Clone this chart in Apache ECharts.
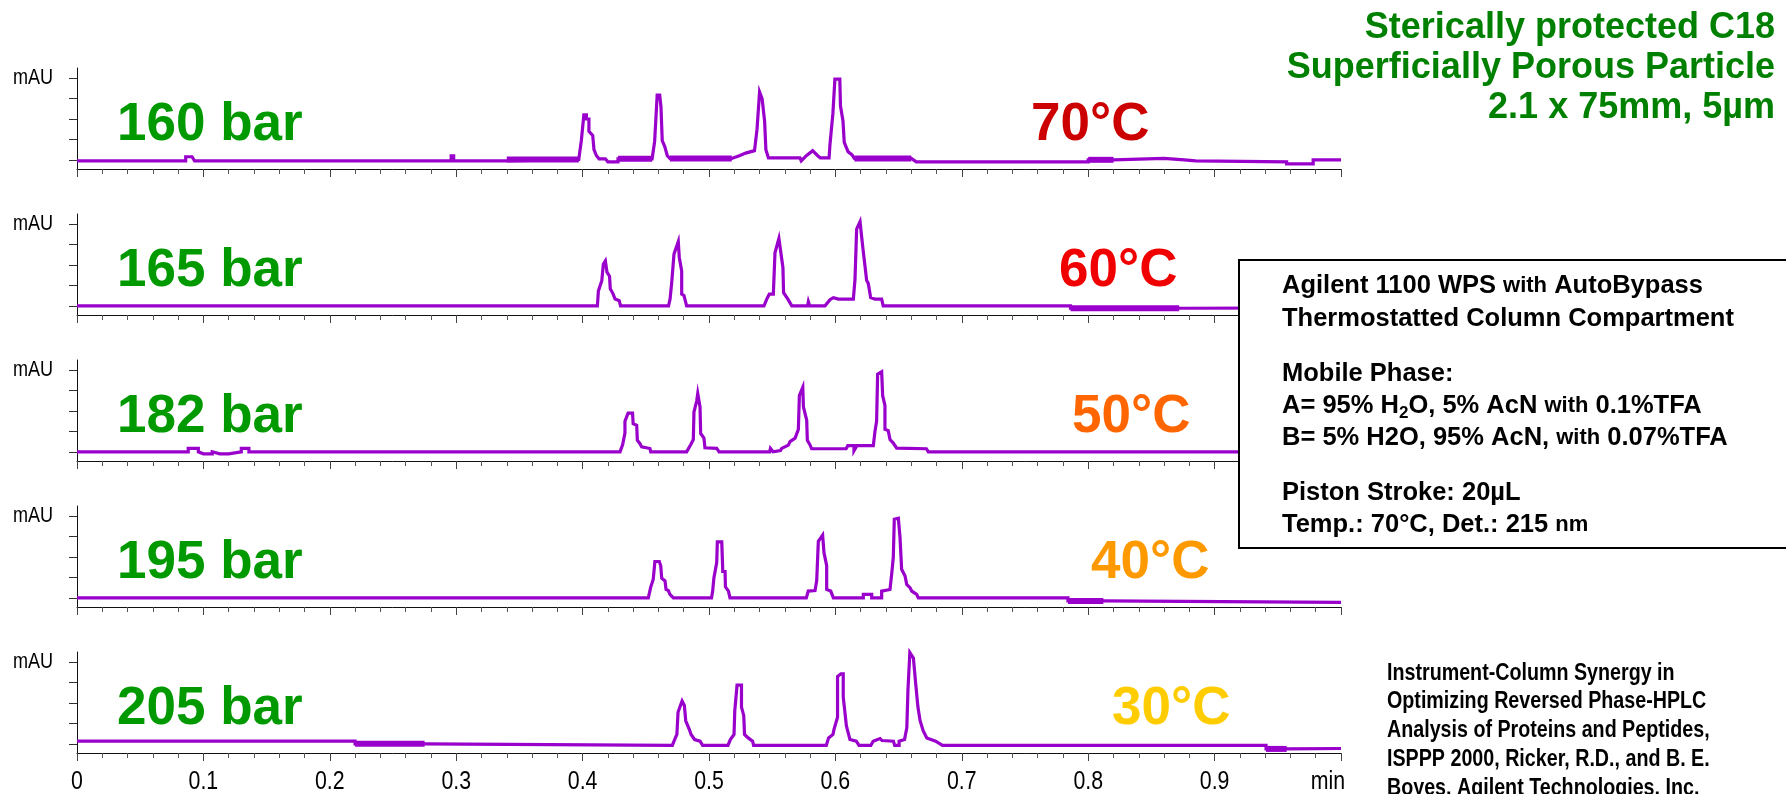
<!DOCTYPE html>
<html>
<head>
<meta charset="utf-8">
<script src="https://cdn.jsdelivr.net/npm/echarts@6/dist/echarts.min.js"></script>
<style>
  html, body { margin: 0; padding: 0; background: #fff; }
  #chart { width: 1786px; height: 794px; }
</style>
</head>
<body>
<div id="chart"></div>
<script>
// Run conditions: pressure labels and column temperatures, top to bottom
const pressures = ['160 bar', '165 bar', '182 bar', '195 bar', '205 bar'];
const temperatures = ['70°C', '60°C', '50°C', '40°C', '30°C'];

// Retention time axis (min) and detector axis ticks
const timeTicks = [0, 0.1, 0.2, 0.3, 0.4, 0.5, 0.6, 0.7, 0.8, 0.9, 1.0];
const timeTickLabels = ['0', '0.1', '0.2', '0.3', '0.4', '0.5', '0.6', '0.7', '0.8', '0.9', 'min'];
const absorbanceTicks = [0, 1, 2, 3, 4];
const absorbanceUnit = 'mAU';

// Chromatogram traces: [time (min), detector signal]
const trace160 = [
  [0, -0.05], [0.086, -0.05], [0.086, 0.15], [0.091, 0.15], [0.093, -0.05],
  [0.296, -0.05], [0.296, 0.2], [0.298, 0.2], [0.298, -0.05], [0.340, -0.05],
  [0.340, 0.02], [0.397, 0.02],
  [0.398, 0.5], [0.399, 0.94], [0.401, 2.2], [0.403, 2.2], [0.403, 2.0], [0.405, 2.0],
  [0.405, 1.4], [0.408, 1.2], [0.409, 0.5], [0.411, 0.2], [0.413, 0.05], [0.418, 0.05],
  [0.420, -0.1], [0.428, -0.1], [0.428, 0.05], [0.455, 0.05],
  [0.457, 0.9], [0.459, 3.17], [0.461, 3.17], [0.462, 2.6], [0.463, 0.94], [0.465, 0.65],
  [0.467, 0.2], [0.469, 0.07], [0.518, 0.07],
  [0.524, 0.2], [0.529, 0.33], [0.536, 0.45], [0.538, 1.5], [0.540, 3.33], [0.542, 3.0], [0.544, 1.9],
  [0.545, 0.5], [0.547, 0.1], [0.572, 0.1], [0.573, -0.05], [0.577, 0.2], [0.582, 0.45],
  [0.586, 0.2], [0.588, 0.1], [0.595, 0.1],
  [0.5957, 0.75], [0.598, 2.25], [0.5996, 3.95], [0.6035, 3.95], [0.604, 2.65], [0.606, 1.9],
  [0.607, 0.85], [0.610, 0.4], [0.613, 0.25], [0.615, 0.07], [0.660, 0.07], [0.664, -0.1],
  [0.800, -0.1], [0.800, 0.0], [0.820, 0.0], [0.820, 0.07], [0.860, 0.07], [0.860, 0.0],
  [0.876, 0.0], [0.876, -0.05], [0.885, -0.05], [0.885, -0.1], [0.957, -0.1], [0.957, -0.2],
  [0.978, -0.2], [0.978, 0.0], [1.0, 0.0]
];
const trace165 = [
  [0, 0.0], [0.4117, 0.0], [0.4125, 0.73], [0.4152, 1.23], [0.4164, 2.04], [0.418, 2.2],
  [0.4193, 1.65], [0.4213, 1.45], [0.4219, 0.83], [0.424, 0.6], [0.4257, 0.33], [0.429, 0.25],
  [0.430, 0.0], [0.468, 0.0],
  [0.4692, 0.33], [0.4705, 1.14], [0.4723, 2.53], [0.4757, 3.15], [0.4765, 2.37], [0.4784, 1.7],
  [0.4784, 0.57], [0.4802, 0.5], [0.4823, 0.0], [0.5435, 0.0],
  [0.5457, 0.33], [0.5477, 0.57], [0.5509, 0.57], [0.5522, 2.6], [0.5553, 3.3], [0.5585, 1.87],
  [0.559, 0.64], [0.5624, 0.33], [0.5655, 0.0],
  [0.578, 0.0], [0.5786, 0.2], [0.5796, 0.2], [0.5796, 0.0], [0.5918, 0.0], [0.5957, 0.3],
  [0.5984, 0.4], [0.6024, 0.33], [0.6142, 0.33],
  [0.6155, 1.3], [0.6168, 3.76], [0.6195, 4.12], [0.6208, 4.12], [0.6216, 2.9], [0.6234, 1.96],
  [0.6247, 1.25], [0.626, 1.1], [0.6279, 0.4], [0.6313, 0.33], [0.6366, 0.33], [0.6378, 0.0],
  [0.786, 0.0], [0.786, -0.12], [0.872, -0.12], [0.872, -0.1], [1.0, -0.1]
];
const trace182 = [
  [0, 0.0], [0.088, 0.0], [0.088, 0.17], [0.096, 0.17], [0.096, 0.0], [0.100, -0.1], [0.107, -0.1],
  [0.107, 0.0], [0.113, -0.1], [0.120, -0.1], [0.130, 0.0], [0.130, 0.17], [0.136, 0.17], [0.136, 0.0],
  [0.4296, 0.0], [0.4317, 0.35], [0.4335, 0.92], [0.4335, 1.5], [0.436, 1.9], [0.4395, 1.9],
  [0.440, 1.38], [0.4428, 1.3], [0.4433, 0.57], [0.4454, 0.4], [0.4467, 0.24], [0.4533, 0.16],
  [0.4539, 0.0], [0.4823, 0.0],
  [0.4836, 0.06], [0.4855, 0.35], [0.4876, 0.6], [0.4881, 1.95], [0.4903, 2.5], [0.4911, 2.86],
  [0.4929, 2.2], [0.4934, 0.9], [0.496, 0.67], [0.4968, 0.2], [0.5061, 0.17], [0.508, 0.0],
  [0.548, 0.0], [0.5486, 0.17], [0.5507, 0.0], [0.5565, 0.06], [0.5575, 0.17], [0.5628, 0.33],
  [0.5641, 0.5], [0.5681, 0.67], [0.5707, 1.1], [0.5715, 2.75], [0.5742, 3.16], [0.5747, 2.2],
  [0.5773, 1.55], [0.5778, 0.57], [0.580, 0.33], [0.5812, 0.15], [0.6085, 0.15], [0.6098, 0.3],
  [0.6147, 0.3], [0.6147, 0.05], [0.617, 0.3], [0.630, 0.3],
  [0.6313, 1.0], [0.6326, 1.5], [0.6334, 3.8], [0.6366, 3.92], [0.6374, 2.75], [0.6392, 2.27],
  [0.6392, 1.1], [0.6418, 1.04], [0.6432, 0.6], [0.6458, 0.43], [0.6485, 0.18], [0.672, 0.15],
  [0.6735, 0.0], [1.0, 0.0]
];
const trace195 = [
  [0, 0.0], [0.452, 0.0], [0.4538, 0.5], [0.4559, 0.91], [0.4572, 1.78], [0.4607, 1.78],
  [0.4618, 1.57], [0.4626, 0.96], [0.4652, 0.83], [0.466, 0.41], [0.4678, 0.36], [0.4691, 0.17],
  [0.4718, 0.0], [0.502, 0.0],
  [0.5029, 0.33], [0.5039, 0.99], [0.5061, 1.73], [0.5066, 2.74], [0.5101, 2.74], [0.5109, 1.29],
  [0.5127, 1.29], [0.513, 0.54], [0.5154, 0.33], [0.5166, 0.0], [0.577, 0.0],
  [0.5785, 0.33], [0.5839, 0.36], [0.5852, 0.83], [0.5865, 2.77], [0.5899, 3.07], [0.591, 2.2],
  [0.5931, 1.57], [0.5931, 0.41], [0.5963, 0.33], [0.5984, 0.0],
  [0.6221, 0.0], [0.6221, 0.17], [0.6287, 0.17], [0.6287, 0.0], [0.6366, 0.0], [0.6366, 0.33],
  [0.6432, 0.41], [0.6445, 1.15], [0.6458, 1.98], [0.6466, 3.85], [0.6498, 3.9], [0.6511, 2.97],
  [0.6524, 1.4], [0.6551, 1.07], [0.6564, 0.66], [0.659, 0.5], [0.6604, 0.33], [0.6643, 0.17],
  [0.6656, 0.0], [0.784, 0.0], [0.784, -0.15], [0.812, -0.15], [0.812, -0.22], [1.0, -0.22]
];
const trace205 = [
  [0, 0.13], [0.220, 0.13], [0.220, 0.0], [0.275, 0.0], [0.275, -0.08], [0.471, -0.08],
  [0.4729, 0.22], [0.4746, 0.46], [0.4755, 1.55], [0.4774, 1.88], [0.4787, 2.1], [0.4805, 1.88],
  [0.4816, 1.13], [0.4844, 0.71], [0.4858, 0.46], [0.4886, 0.21], [0.4929, 0.13], [0.495, -0.08],
  [0.515, -0.08], [0.5169, 0.21], [0.5198, 0.46], [0.5204, 1.63], [0.5222, 2.88], [0.5257, 2.88],
  [0.5257, 1.8], [0.5275, 1.38], [0.5281, 0.46], [0.531, 0.29], [0.5345, 0.13], [0.5353, -0.08],
  [0.5928, -0.08], [0.5946, 0.29], [0.5981, 0.46], [0.5989, 0.71], [0.6017, 1.3], [0.6017, 3.3],
  [0.6044, 3.43], [0.6062, 3.43], [0.6062, 2.3], [0.6087, 0.88], [0.6115, 0.21], [0.6165, 0.13],
  [0.6187, -0.08], [0.628, -0.08], [0.6299, 0.13], [0.6353, 0.26], [0.6369, 0.16], [0.6459, 0.13],
  [0.6469, -0.08], [0.6504, -0.08], [0.6504, 0.13], [0.6547, 0.21], [0.6565, 0.79], [0.6574, 2.63],
  [0.6589, 4.47], [0.6617, 4.2], [0.6635, 2.96], [0.6653, 1.8], [0.667, 1.13], [0.6695, 0.63],
  [0.6723, 0.29], [0.6793, 0.13], [0.6847, -0.08], [0.9407, -0.08], [0.9407, -0.25],
  [0.957, -0.25], [0.957, -0.23], [1.0, -0.23]
];
const traces = [trace160, trace165, trace182, trace195, trace205];

// Noisy baseline stretches where the signal flickers between two levels: [start, end, level]
const noise160 = [[0.340, 0.397, 0.02], [0.428, 0.455, 0.05], [0.469, 0.518, 0.07], [0.615, 0.660, 0.07], [0.800, 0.820, 0.0]];
const noise165 = [[0.786, 0.872, -0.12]];
const noise182 = [];
const noise195 = [[0.784, 0.812, -0.15]];
const noise205 = [[0.220, 0.275, 0.0], [0.9407, 0.957, -0.25]];
const noiseBands = [noise160, noise165, noise182, noise195, noise205];

// Annotation text
const titleLines = ['Sterically protected C18', 'Superficially Porous Particle', '2.1 x 75mm, 5µm'];
const tempColors = ['#CC0000', '#F00000', '#FF6600', '#FF9900', '#FFCC00'];
const citationLines = [
  'Instrument-Column Synergy in',
  'Optimizing Reversed Phase-HPLC',
  'Analysis of Proteins and Peptides,',
  'ISPPP 2000, Ricker, R.D., and B. E.',
  'Boyes, Agilent Technologies, Inc.'
];

// ---- layout ----
const PLOT_LEFT = 77, PLOT_WIDTH = 1264, PLOT_HEIGHT = 101;
const axisBottoms = [169, 315, 461, 607, 753];
const tempLeft = [1031, 1059, 1072, 1091, 1112];
const TRACE_COLOR = '#9900CC';
const SANS = '"Liberation Sans", Arial, Helvetica, sans-serif';
const NARROW_SCALE = 0.82;   // horizontal squeeze that gives Arial a narrow cut

const grids = [], xAxes = [], yAxes = [], series = [];
axisBottoms.forEach((bottom, i) => {
  grids.push({ left: PLOT_LEFT, width: PLOT_WIDTH, top: bottom - PLOT_HEIGHT, height: PLOT_HEIGHT });
  xAxes.push({
    type: 'value', gridIndex: i,
    min: timeTicks[0], max: timeTicks[timeTicks.length - 1], interval: 0.1,
    axisLine: { show: true, onZero: false, lineStyle: { color: '#111', width: 1 } },
    axisTick: { show: true, length: 8, lineStyle: { color: '#444', width: 1 } },
    minorTick: { show: true, splitNumber: 5, length: 5, lineStyle: { color: '#555', width: 1 } },
    splitLine: { show: false },
    axisLabel: { show: false }
  });
  yAxes.push({
    type: 'value', gridIndex: i, min: -0.45, max: 4.5,
    axisLine: { show: true, onZero: false, lineStyle: { color: '#111', width: 1 } },
    axisTick: { show: true, length: 8, customValues: absorbanceTicks, lineStyle: { color: '#333', width: 1 } },
    axisLabel: { show: false },
    splitLine: { show: false }
  });
  series.push({
    type: 'line', xAxisIndex: i, yAxisIndex: i, data: traces[i],
    symbol: 'none', clip: false, animation: false, silent: true,
    lineStyle: { color: TRACE_COLOR, width: 3.2, join: 'miter' }, z: 3
  });
  noiseBands[i].forEach(b => {
    series.push({
      type: 'line', xAxisIndex: i, yAxisIndex: i, data: [[b[0], b[2]], [b[1], b[2]]],
      symbol: 'none', clip: false, animation: false, silent: true,
      lineStyle: { color: TRACE_COLOR, width: 6, cap: 'butt' }, z: 3
    });
  });
});

const chart = echarts.init(document.getElementById('chart'), null, { renderer: 'canvas' });
chart.setOption({
  animation: false,
  backgroundColor: '#fff',
  grid: grids,
  xAxis: xAxes,
  yAxis: yAxes,
  series: series
});

const graphics = [];
// narrow axis labels, placed through the axes' own scales
const lastPanel = axisBottoms.length - 1;
timeTicks.forEach((v, k) => {
  const px = chart.convertToPixel({ xAxisIndex: lastPanel }, v);
  const isUnit = k === timeTicks.length - 1;
  graphics.push({
    type: 'text', x: isUnit ? px + 4 : px, y: axisBottoms[lastPanel] + 29, scaleX: NARROW_SCALE, z: 10,
    style: { text: timeTickLabels[k], fill: '#000', font: '26px ' + SANS,
             align: isUnit ? 'right' : 'center', verticalAlign: 'middle' }
  });
});
axisBottoms.forEach((bottom, i) => {
  const py = chart.convertToPixel({ yAxisIndex: i }, absorbanceTicks[absorbanceTicks.length - 1]);
  graphics.push({
    type: 'text', x: PLOT_LEFT - 24, y: py, scaleX: NARROW_SCALE, z: 10,
    style: { text: absorbanceUnit, fill: '#000', font: '22px ' + SANS, align: 'right', verticalAlign: 'middle' }
  });
});
// pressure and temperature labels per panel
axisBottoms.forEach((bottom, i) => {
  graphics.push({
    type: 'text', x: 117, y: bottom - 44, z: 10,
    style: { text: pressures[i], fill: '#009900', font: 'bold 53px ' + SANS, align: 'left', verticalAlign: 'middle' }
  });
  graphics.push({
    type: 'text', x: tempLeft[i], y: bottom - 44, z: 10,
    style: { text: temperatures[i], fill: tempColors[i], font: 'bold 53px ' + SANS, align: 'left', verticalAlign: 'middle' }
  });
});
// column description, top right
titleLines.forEach((t, k) => {
  graphics.push({
    type: 'text', x: 1775, y: 28 + k * 40, z: 10,
    style: { text: t, fill: '#008000', font: 'bold 36px ' + SANS, align: 'right', verticalAlign: 'middle' }
  });
});
// method conditions box
graphics.push({
  type: 'rect', z: 20, shape: { x: 1239, y: 260, width: 600, height: 288 },
  style: { fill: '#fff', stroke: '#000', lineWidth: 2 }
});
const boxRich = {
  b: { fontSize: 25.5, fontWeight: 'bold', fontFamily: SANS, fill: '#000', lineHeight: 32, verticalAlign: 'middle' },
  s: { fontSize: 22, fontWeight: 'bold', fontFamily: SANS, fill: '#000', lineHeight: 32, verticalAlign: 'middle' },
  sub: { fontSize: 17, fontWeight: 'bold', fontFamily: SANS, fill: '#000', lineHeight: 17, verticalAlign: 'bottom' }
};
const boxLines = [
  ['{b|Agilent 1100 WPS }{s|with}{b| AutoBypass}', 286],
  ['{b|Thermostatted Column Compartment}', 319],
  ['{b|Mobile Phase:}', 374],
  ['{b|A= 95% H}{sub|2}{b|O, 5% AcN }{s|with}{b| 0.1%TFA}', 406],
  ['{b|B= 5% H2O, 95% AcN, }{s|with}{b| 0.07%TFA}', 438],
  ['{b|Piston Stroke: 20µL}', 493],
  ['{b|Temp.: 70°C, Det.: 215 }{s|nm}', 525]
];
boxLines.forEach(([t, y]) => {
  graphics.push({
    type: 'text', x: 1282, y: y, z: 21,
    style: { text: t, rich: boxRich, align: 'left', verticalAlign: 'middle' }
  });
});
// reference citation, bottom right
citationLines.forEach((t, k) => {
  graphics.push({
    type: 'text', x: 1387, y: 673 + k * 28.8, scaleX: 0.82, z: 10,
    style: { text: t, fill: '#000', font: 'bold 24px ' + SANS, align: 'left', verticalAlign: 'middle' }
  });
});

chart.setOption({ graphic: { elements: graphics } });
</script>
</body>
</html>
